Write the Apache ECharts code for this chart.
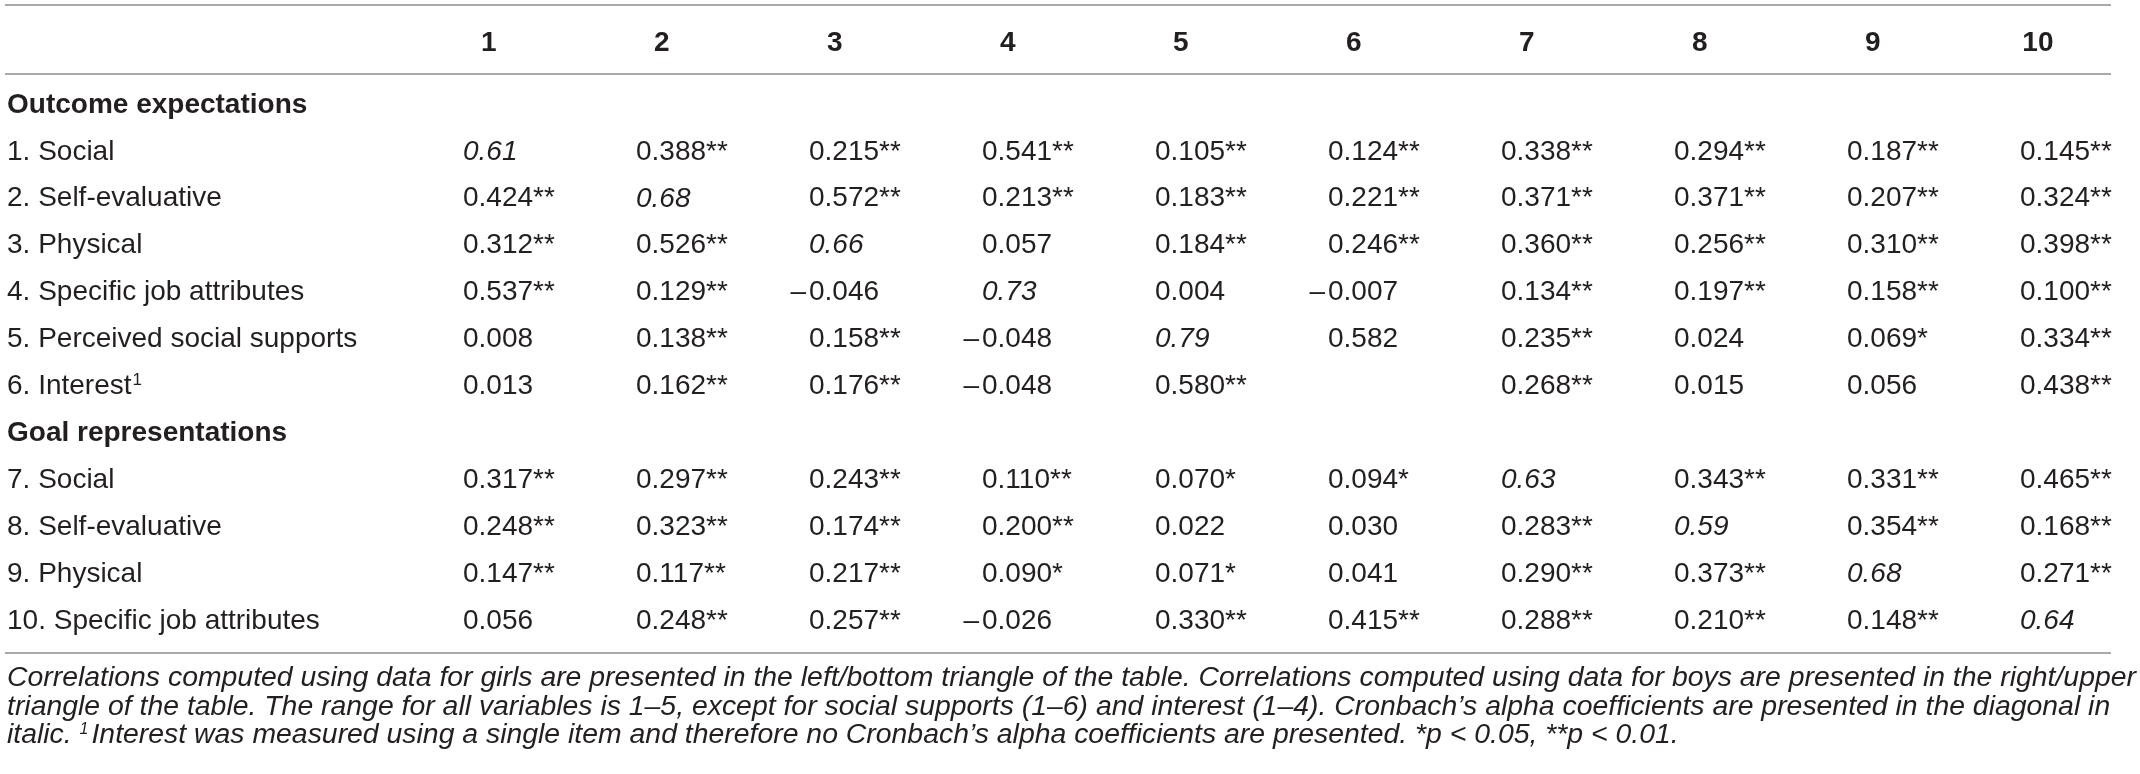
<!DOCTYPE html>
<html>
<head>
<meta charset="utf-8">
<script src="https://cdn.jsdelivr.net/npm/echarts@6/dist/echarts.min.js"></script>
<style>
  html, body { margin: 0; padding: 0; background: #fff; }
  #tableChart { width: 2140px; height: 774px; }
</style>
</head>
<body>
<div id="tableChart"></div>
<script>
// column heads and row labels of the correlation table
var colLabels = ["1", "2", "3", "4", "5", "6", "7", "8", "9", "10"];
var rowLabels = [
    "Outcome expectations",
    "1. Social",
    "2. Self-evaluative",
    "3. Physical",
    "4. Specific job attributes",
    "5. Perceived social supports",
    "6. Interest",
    "Goal representations",
    "7. Social",
    "8. Self-evaluative",
    "9. Physical",
    "10. Specific job attributes"
];
var groupRows = ["Outcome expectations", "Goal representations"];
var rowNotes = { "6. Interest": "1" };

// cell values, one array per variable row (girls below, boys above the diagonal)
var row1 = ["0.61", "0.388**", "0.215**", "0.541**", "0.105**", "0.124**", "0.338**", "0.294**", "0.187**", "0.145**"];
var row2 = ["0.424**", "0.68", "0.572**", "0.213**", "0.183**", "0.221**", "0.371**", "0.371**", "0.207**", "0.324**"];
var row3 = ["0.312**", "0.526**", "0.66", "0.057", "0.184**", "0.246**", "0.360**", "0.256**", "0.310**", "0.398**"];
var row4 = ["0.537**", "0.129**", "–0.046", "0.73", "0.004", "–0.007", "0.134**", "0.197**", "0.158**", "0.100**"];
var row5 = ["0.008", "0.138**", "0.158**", "–0.048", "0.79", "0.582", "0.235**", "0.024", "0.069*", "0.334**"];
var row6 = ["0.013", "0.162**", "0.176**", "–0.048", "0.580**", "", "0.268**", "0.015", "0.056", "0.438**"];
var row7 = ["0.317**", "0.297**", "0.243**", "0.110**", "0.070*", "0.094*", "0.63", "0.343**", "0.331**", "0.465**"];
var row8 = ["0.248**", "0.323**", "0.174**", "0.200**", "0.022", "0.030", "0.283**", "0.59", "0.354**", "0.168**"];
var row9 = ["0.147**", "0.117**", "0.217**", "0.090*", "0.071*", "0.041", "0.290**", "0.373**", "0.68", "0.271**"];
var row10 = ["0.056", "0.248**", "0.257**", "–0.026", "0.330**", "0.415**", "0.288**", "0.210**", "0.148**", "0.64"];
var valueRows = [row1, row2, row3, row4, row5, row6, row7, row8, row9, row10];

var footLines = [
    "Correlations computed using data for girls are presented in the left/bottom triangle of the table. Correlations computed using data for boys are presented in the right/upper",
    "triangle of the table. The range for all variables is 1–5, except for social supports (1–6) and interest (1–4). Cronbach’s alpha coefficients are presented in the diagonal in",
    "italic. {sup|1}Interest was measured using a single item and therefore no Cronbach’s alpha coefficients are presented. *p < 0.05, **p < 0.01."
];

// layout
var FONT = "'Helvetica Neue', Helvetica, 'Liberation Sans', Arial, sans-serif";
var TXT = "#231f20";
var RULE = "#a9a9a9";
var gridLeft = 410, gridTop = 81.5, colW = 175, rowH = 46.9;
var ruleL = 5, ruleR = 2111;

// build cells: [colIdx, rowIdx] with text looked up by index
var cells = [], cellText = [], cellItalic = [];
var v = 0;
for (var r = 0; r < rowLabels.length; r++) {
    if (groupRows.indexOf(rowLabels[r]) >= 0) continue;
    var vals = valueRows[v];
    for (var c = 0; c < vals.length; c++) {
        if (vals[c] === "") continue;
        cells.push([c, r]);
        cellText.push(vals[c]);
        cellItalic.push(c === v);
    }
    v++;
}

var chart = echarts.init(document.getElementById("tableChart"));

var option = {
    animation: false,
    grid: { left: gridLeft, top: gridTop, width: colW * colLabels.length, height: rowH * rowLabels.length },
    xAxis: {
        type: "category",
        position: "top",
        data: colLabels,
        axisLine: { show: false },
        axisTick: { show: false },
        splitLine: { show: false },
        axisLabel: {
            interval: 0,
            margin: gridTop - 43,
            align: "right",
            verticalAlign: "middle",
            fontFamily: FONT,
            fontWeight: "bold",
            fontSize: 28,
            color: TXT
        }
    },
    yAxis: {
        type: "category",
        inverse: true,
        data: rowLabels,
        axisLine: { show: false },
        axisTick: { show: false },
        splitLine: { show: false },
        axisLabel: {
            interval: 0,
            margin: gridLeft - 7,
            align: "left",
            fontFamily: FONT,
            fontSize: 28,
            color: TXT,
            formatter: function (val) {
                if (groupRows.indexOf(val) >= 0) return "{g|" + val + "}";
                if (rowNotes[val]) return val + "{sup|" + rowNotes[val] + "}";
                return val;
            },
            rich: {
                g: { fontFamily: FONT, fontWeight: "bold", fontSize: 28, color: TXT },
                sup: { fontFamily: FONT, fontSize: 17, color: TXT, padding: [0, 0, 12, 1] }
            }
        }
    },
    series: [{
        type: "custom",
        clip: false,
        data: cells,
        renderItem: function (params, api) {
            var p = api.coord([api.value(0), api.value(1)]);
            var x = p[0] - 33.5, y = p[1];
            var txt = cellText[params.dataIndex];
            var font = (cellItalic[params.dataIndex] ? "italic " : "") + "28px " + FONT;
            var kids = [];
            if (txt.charAt(0) === "–") {
                kids.push({ type: "text", x: x - 3, y: y, style: { text: "–", font: font, fill: TXT, align: "right", verticalAlign: "middle" } });
                txt = txt.slice(1);
            }
            kids.push({ type: "text", x: x, y: y, style: { text: txt, font: font, fill: TXT, align: "left", verticalAlign: "middle" } });
            return { type: "group", children: kids };
        }
    }],
    graphic: [
        { type: "line", shape: { x1: ruleL, y1: 5, x2: ruleR, y2: 5 }, style: { stroke: RULE, lineWidth: 2 } },
        { type: "line", shape: { x1: ruleL, y1: 74, x2: ruleR, y2: 74 }, style: { stroke: RULE, lineWidth: 2 } },
        { type: "line", shape: { x1: ruleL, y1: 653, x2: ruleR, y2: 653 }, style: { stroke: RULE, lineWidth: 2 } }
    ]
};

footLines.forEach(function (line, i) {
    option.graphic.push({
        type: "text",
        x: 7,
        y: 678 + i * 28.8,
        style: {
            text: line,
            font: "italic 28.4px " + FONT,
            fill: TXT,
            verticalAlign: "middle",
            rich: {
                sup: { font: "italic 16px " + FONT, fill: TXT, padding: [0, 3, 12, 0] }
            }
        }
    });
});

chart.setOption(option);
</script>
</body>
</html>
